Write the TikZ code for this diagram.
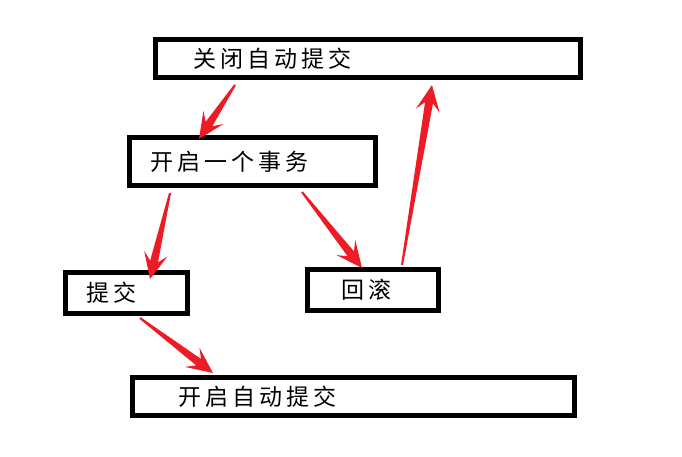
\documentclass[tikz,border=0pt]{standalone}
\usepackage{fontspec}
\newfontfamily\cjk[LetterSpace=18]{Noto Sans CJK SC}
\usepackage{tikz}
\usetikzlibrary{calc}
\definecolor{arrowred}{HTML}{ED1C24}
\tikzset{
  box/.style={rectangle, draw=black, line width=5pt, fill=white, inner sep=0pt},
  lbl/.style={anchor=west, inner sep=0pt, font=\cjk\fontsize{23}{26}\selectfont},
}
% tapered red arrow: #1 = start, #2 = tip
\newcommand\wedgearrow[2]{%
  \path (#1) coordinate (wa-s) (#2) coordinate (wa-e);
  \path ($(wa-e)!18pt!(wa-s)$) coordinate (wa-n)
        ($(wa-e)!26pt!(wa-s)$) coordinate (wa-h);
  \fill[arrowred] ($(wa-s)!1pt!90:(wa-e)$) -- ($(wa-n)!4pt!90:(wa-e)$)
    -- ($(wa-h)!12pt!90:(wa-e)$) -- (wa-e)
    -- ($(wa-h)!12pt!-90:(wa-e)$) -- ($(wa-n)!4pt!-90:(wa-e)$)
    -- ($(wa-s)!1pt!-90:(wa-e)$) -- cycle;
}

\begin{document}
\begin{tikzpicture}[x=1pt, y=-1pt]
  \useasboundingbox (0,0) rectangle (682,457);

  % boxes
  \node[box, minimum width=425pt, minimum height=38pt,
        label={[lbl, xshift=40pt]west:关闭自动提交}] (offauto) at (368,58.5) {};
  \node[box, minimum width=246pt, minimum height=48pt,
        label={[lbl, xshift=23pt]west:开启一个事务}] (starttx) at (252.5,161.5) {};
  \node[box, minimum width=122pt, minimum height=41pt,
        label={[lbl, xshift=23pt]west:提交}] (commit) at (126.5,293) {};
  \node[box, minimum width=131pt, minimum height=41pt,
        label={[lbl, xshift=36pt]west:回滚}] (rollback) at (373,290) {};
  \node[box, minimum width=442pt, minimum height=38pt,
        label={[lbl, xshift=48pt]west:开启自动提交}] (onauto) at (353.5,396.5) {};

  % arrows
  \wedgearrow{$(offauto.south west)+(82,5)$}{$(starttx.north west)+(72,4)$}
  \wedgearrow{$(starttx.south west)+(43,5)$}{$(commit.north west)+(87,9)$}
  \wedgearrow{$(starttx.south west)+(175,4)$}{$(rollback.north west)+(57,1)$}
  \wedgearrow{$(rollback.north west)+(97,-2)$}{$(offauto.south west)+(279,5)$}
  \wedgearrow{$(commit.south west)+(77,2)$}{$(onauto.north west)+(83,-2)$}
\end{tikzpicture}
\end{document}
